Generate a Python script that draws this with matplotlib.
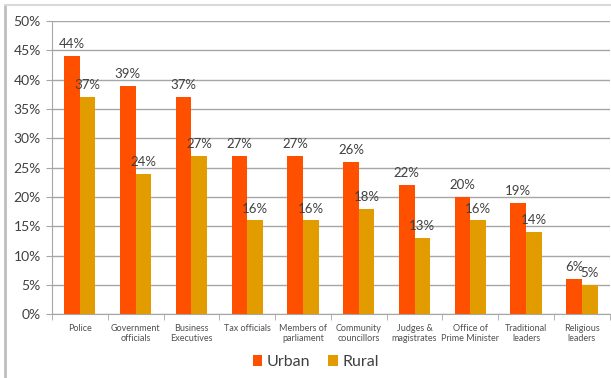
import numpy as np
import matplotlib.pyplot as plt
from matplotlib.lines import Line2D
from matplotlib.ticker import FixedLocator, PercentFormatter

# Data
categories = ["Police", "Government\nofficials", "Business\nExecutives", "Tax officials",
              "Members of\nparliament", "Community\ncouncillors", "Judges &\nmagistrates",
              "Office of\nPrime Minister", "Traditional\nleaders", "Religious\nleaders"]
urban = [44, 39, 37, 27, 27, 26, 22, 20, 19, 6]
rural = [37, 24, 27, 16, 16, 18, 13, 16, 14, 5]
y_ticks = [0, 5, 10, 15, 20, 25, 30, 35, 40, 45, 50]

urban_color = '#FF5000'
rural_color = '#E29C00'
text_color = '#404040'
grid_color = '#A6A6A6'
font = 'Lato'

fig = plt.figure(figsize=(6.11, 3.78), dpi=100)
ax = fig.add_axes([0.085, 0.169, 0.913, 0.775])

x = np.arange(len(categories))
w = 0.28
bu = ax.bar(x - w / 2, urban, w, color=urban_color, label='Urban', zorder=3)
br = ax.bar(x + w / 2, rural, w, color=rural_color, label='Rural', zorder=3)

for b, v in zip(bu, urban):
    ax.text(b.get_x() + b.get_width() / 2, v + 1.0, f'{v}%', ha='center', va='bottom',
            fontsize=9.5, color=text_color, family=font)
for b, v in zip(br, rural):
    ax.text(b.get_x() + b.get_width() / 2, v + 1.0, f'{v}%', ha='center', va='bottom',
            fontsize=9.5, color=text_color, family=font)

ax.set_xlim(-0.5, len(categories) - 0.5)
ax.set_ylim(0, 50)
ax.set_yticks(y_ticks)
ax.yaxis.set_major_formatter(PercentFormatter(decimals=0))
ax.set_xticks(x)
ax.set_xticklabels(categories, fontsize=6.5, color='#505050', family=font, linespacing=1.2)
ax.xaxis.set_minor_locator(FixedLocator(np.arange(-0.5, len(categories), 1.0)))
ax.tick_params(axis='x', which='major', length=0, pad=7)
ax.tick_params(axis='x', which='minor', length=4, color=grid_color, direction='out')
ax.tick_params(axis='y', length=4, color=grid_color, labelsize=10, labelcolor=text_color, pad=4)
for lab in ax.get_yticklabels():
    lab.set_family(font)

ax.grid(axis='y', color=grid_color, lw=1, zorder=0)
for s in ['top', 'right']:
    ax.spines[s].set_visible(False)
ax.spines['left'].set_color(grid_color)
ax.spines['bottom'].set_color(grid_color)

leg = fig.legend(handles=[bu, br], labels=['Urban', 'Rural'], loc='center',
                 bbox_to_anchor=(0.517, 0.042), ncol=2, frameon=False,
                 prop={'family': font, 'size': 11.5}, handlelength=0.6, handleheight=0.6,
                 handletextpad=0.3, columnspacing=1.1)
for t in leg.get_texts():
    t.set_color(text_color)

# outer border of the slide
fig.add_artist(Line2D([0.009, 0.009], [0, 0.987], transform=fig.transFigure, color='#BFBFBF', lw=2))
fig.add_artist(Line2D([0.009, 1.0], [0.987, 0.987], transform=fig.transFigure, color='#D9D9D9', lw=1.5))

fig.savefig('out.png', dpi=100)
